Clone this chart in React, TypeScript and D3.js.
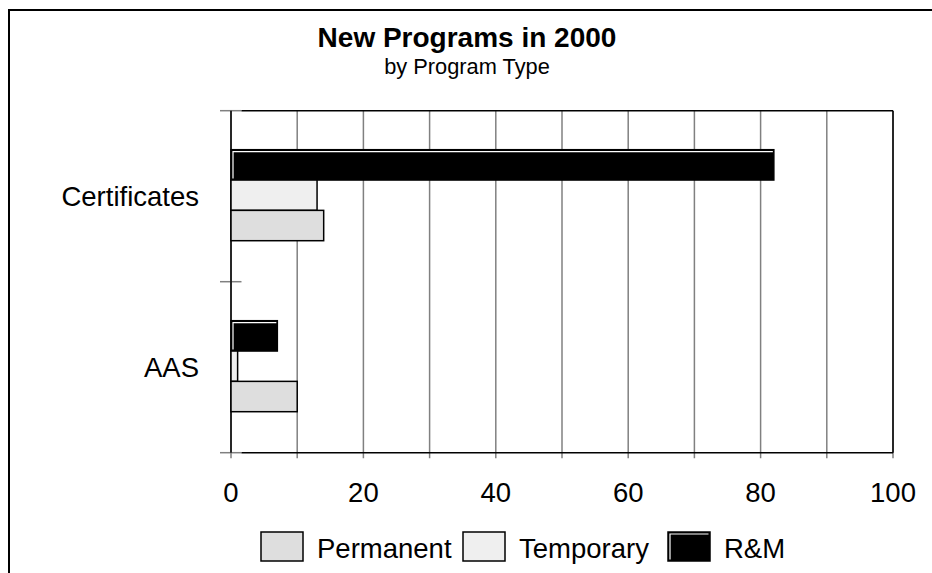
import React from "react";
import * as d3 from "d3";

const categories = ["Certificates", "AAS"];
const seriesNames = ["Permanent", "Temporary", "R&M"];
const permanent = [14, 10];
const temporary = [13, 1];
const rm = [82, 7];
const xTickLabels = [0, 20, 40, 60, 80, 100];
const gridValues = [0, 10, 20, 30, 40, 50, 60, 70, 80, 90, 100];

const fills: Record<string, string> = {
  Permanent: "#dedede",
  Temporary: "#efefef",
  "R&M": "#000000",
};

const W = 932;
const H = 573;
const FONT = "'Liberation Sans', Arial, sans-serif";

export default function App() {
  const left = 231, right = 893, top = 110.7, bottom = 452.7;
  const x = d3.scaleLinear().domain([0, 100]).range([left, right]);
  const y0 = d3.scaleBand<string>().domain(categories).range([top, bottom]);
  const groupH = 91;
  const bw = y0.bandwidth();
  const drawOrder = ["R&M", "Temporary", "Permanent"];
  const y1 = d3
    .scaleBand<string>()
    .domain(drawOrder)
    .range([(bw - groupH) / 2 - 1, (bw + groupH) / 2 - 1]);

  const valuesFor = (s: string) =>
    s === "Permanent" ? permanent : s === "Temporary" ? temporary : rm;

  const legendX = [261, 463, 668];
  const legendY = 532;
  const boxW = 42, boxH = 29;

  return (
    <svg
      width={W}
      height={H}
      style={{ position: "absolute", left: 0, top: 0, background: "#fff" }}
      fontFamily={FONT}
    >
      <rect x={0} y={0} width={W} height={H} fill="#fff" />
      <rect x={9} y={10} width={940} height={600} fill="none" stroke="#000" strokeWidth={2} />

      <text x={467} y={47} textAnchor="middle" fontWeight="bold" fontSize={28}>
        New Programs in 2000
      </text>
      <text x={467} y={74} textAnchor="middle" fontSize={21.8}>
        by Program Type
      </text>

      {/* gridlines */}
      {gridValues.map((v) => (
        <line
          key={"g" + v}
          x1={x(v)}
          x2={x(v)}
          y1={top}
          y2={bottom + 5.5}
          stroke="#808080"
          strokeWidth={1.5}
        />
      ))}
      {/* y ticks */}
      {[top, y0("AAS")!, bottom].map((yy, i) => (
        <line key={"yt" + i} x1={220} x2={241.5} y1={yy} y2={yy} stroke="#808080" strokeWidth={1.5} />
      ))}
      {/* frame lines */}
      <line x1={241.5} x2={right} y1={top} y2={top} stroke="#000" strokeWidth={1.5} />
      <line x1={241.5} x2={right} y1={bottom} y2={bottom} stroke="#000" strokeWidth={1.5} />
      <line x1={right} x2={right} y1={top} y2={bottom} stroke="#000" strokeWidth={1.5} />
      <line x1={left} x2={left} y1={top} y2={bottom} stroke="#000" strokeWidth={1.5} />

      {/* bars */}
      {categories.map((c, ci) => (
        <g key={c} transform={`translate(0,${y0(c)})`}>
          {drawOrder.map((s) => {
            const v = valuesFor(s)[ci];
            const yy = y1(s)!;
            const h = y1.bandwidth();
            const x0 = x(0);
            const x1 = x(v);
            return (
              <g key={s}>
                <rect
                  x={x0}
                  y={yy}
                  width={x1 - x0}
                  height={h}
                  fill={fills[s]}
                  stroke="#000"
                  strokeWidth={1.5}
                />
                {s === "R&M" && (
                  <polyline
                    points={`${x0 + 2},${yy + h - 1.5} ${x0 + 2},${yy + 2} ${x1 - 1},${yy + 2}`}
                    fill="none"
                    stroke="#fff"
                    strokeWidth={1.2}
                  />
                )}
              </g>
            );
          })}
        </g>
      ))}

      {/* category labels */}
      {categories.map((c) => (
        <text
          key={"l" + c}
          x={199}
          y={y0(c)! + bw / 2 + 10}
          textAnchor="end"
          fontSize={27.5}
        >
          {c}
        </text>
      ))}

      {/* x tick labels */}
      {xTickLabels.map((v) => (
        <text key={"t" + v} x={x(v)} y={502} textAnchor="middle" fontSize={27.5}>
          {v}
        </text>
      ))}

      {/* legend */}
      {seriesNames.map((s, i) => (
        <g key={"lg" + s}>
          <rect
            x={legendX[i]}
            y={legendY}
            width={boxW}
            height={boxH}
            fill={fills[s]}
            stroke="#000"
            strokeWidth={1.5}
          />
          {s === "R&M" && (
            <polyline
              points={`${legendX[i] + 2},${legendY + boxH - 1.5} ${legendX[i] + 2},${legendY + 2} ${legendX[i] + boxW - 1.5},${legendY + 2}`}
              fill="none"
              stroke="#fff"
              strokeWidth={1.2}
            />
          )}
          <text x={legendX[i] + 56} y={legendY + 26} fontSize={27.5}>
            {s}
          </text>
        </g>
      ))}
    </svg>
  );
}
